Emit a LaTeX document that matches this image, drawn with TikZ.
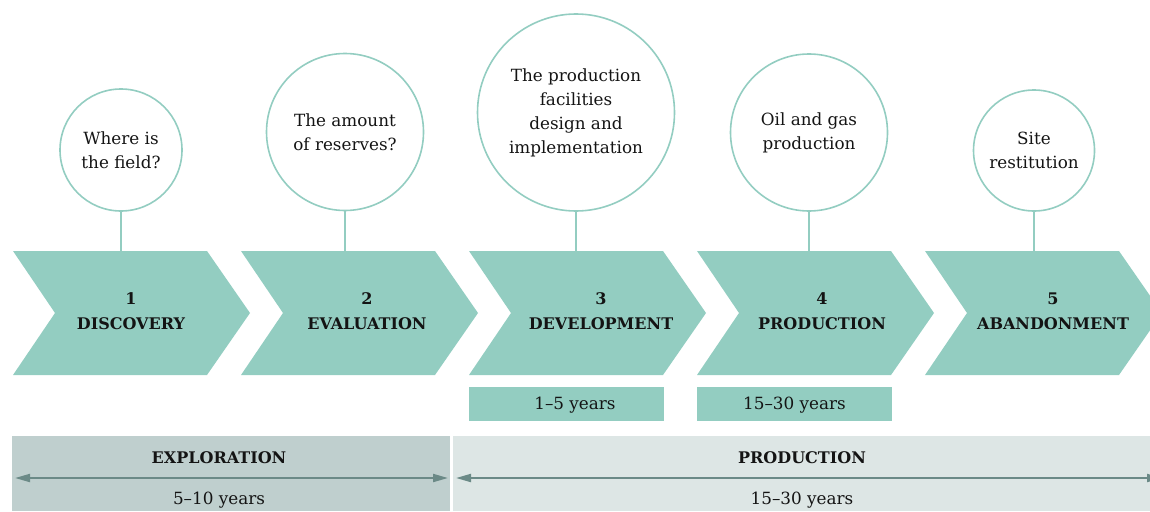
\documentclass[tikz,border=0pt]{standalone}
\usepackage{tikz}
\usetikzlibrary{arrows.meta,positioning}
\usepackage{xcolor}
\usepackage{fontspec}
\setmainfont{DejaVu Serif}

\definecolor{tealfill}{HTML}{93CDC1}
\definecolor{bandexpl}{HTML}{BFCFCE}
\definecolor{bandprod}{HTML}{DDE6E5}
\definecolor{spangray}{HTML}{6B8A87}
\definecolor{ink}{HTML}{141414}

\begin{document}
\begin{tikzpicture}[x=1pt,y=-1pt]
    \tikzstyle{bubble} = [circle, draw=tealfill, line width=1.6pt, inner sep=0pt,
    align=center, text=ink, font=\fontsize{16.8}{24}\selectfont]
    \tikzstyle{phase} = [align=center, text=ink, font=\fontsize{16}{25}\selectfont\bfseries]
    \tikzstyle{yearbox} = [rectangle, fill=tealfill, minimum width=195pt,
    minimum height=34pt, inner sep=0pt]
    \tikzstyle{years} = [text=ink, font=\fontsize{16.8}{24}\selectfont]
    \tikzstyle{stem} = [draw=tealfill, line width=1.6pt]
    \tikzstyle{span} = [draw=spangray, line width=2pt,
    {Triangle[length=15pt,width=8pt]}-{Triangle[length=15pt,width=8pt]}]

    \useasboundingbox (0,0) rectangle (1150,511);

    % Phase chevrons
    \foreach \i/\x/\tx/\name in {1/13/131/DISCOVERY, 2/241/367/EVALUATION,
      3/469/601/DEVELOPMENT, 4/697/822/PRODUCTION, 5/925/1053/ABANDONMENT} {
      \fill[tealfill] (\x,251) -- ++(194,0) -- ++(43,62) -- ++(-43,62)
        -- ++(-194,0) -- ++(42,-62) -- cycle;
      \node[phase] (ph\i) at (\tx,311) {\i\\\name};
    }

    % Question bubbles
    \foreach \i/\cx/\cy/\d/\txt in {1/121/150/122/{Where is\\the field?},
      2/345/132/157/{The amount\\of reserves?},
      3/576/112.5/197/{The production\\facilities\\design and\\implementation},
      4/809/132.5/157/{Oil and gas\\production},
      5/1034/150.5/121/{Site\\restitution}} {
      \node[bubble, minimum size=\d pt] (q\i) at (\cx,\cy) {\txt};
      \coordinate (t\i) at (\cx,251);
      \draw[stem] (q\i) -- (t\i);
    }

    % Durations
    \node[yearbox] (y3) at (566,404) {};
    \node[years] (y3t) at (575,405) {1--5 years};
    \node[yearbox] (y4) at (794.5,404) {};
    \node[years] (y4t) at (794.5,405) {15--30 years};

    % Periods
    \fill[bandexpl] (12,436) rectangle (450,511);
    \fill[bandprod] (453,436) rectangle (1150,511);
    \node[phase] (expl) at (219,458) {EXPLORATION};
    \node[years] (explyrs) at (219,500) {5--10 years};
    \node[phase] (prod) at (802,458) {PRODUCTION};
    \node[years] (prodyrs) at (802,500) {15--30 years};
    \coordinate (e1) at (15,478);
    \coordinate (e2) at (448,478);
    \coordinate (p1) at (456,478);
    \coordinate (p2) at (1162,478);
    \draw[span] (e1) -- (e2);
    \draw[span] (p1) -- (p2);

\end{tikzpicture}
\end{document}
